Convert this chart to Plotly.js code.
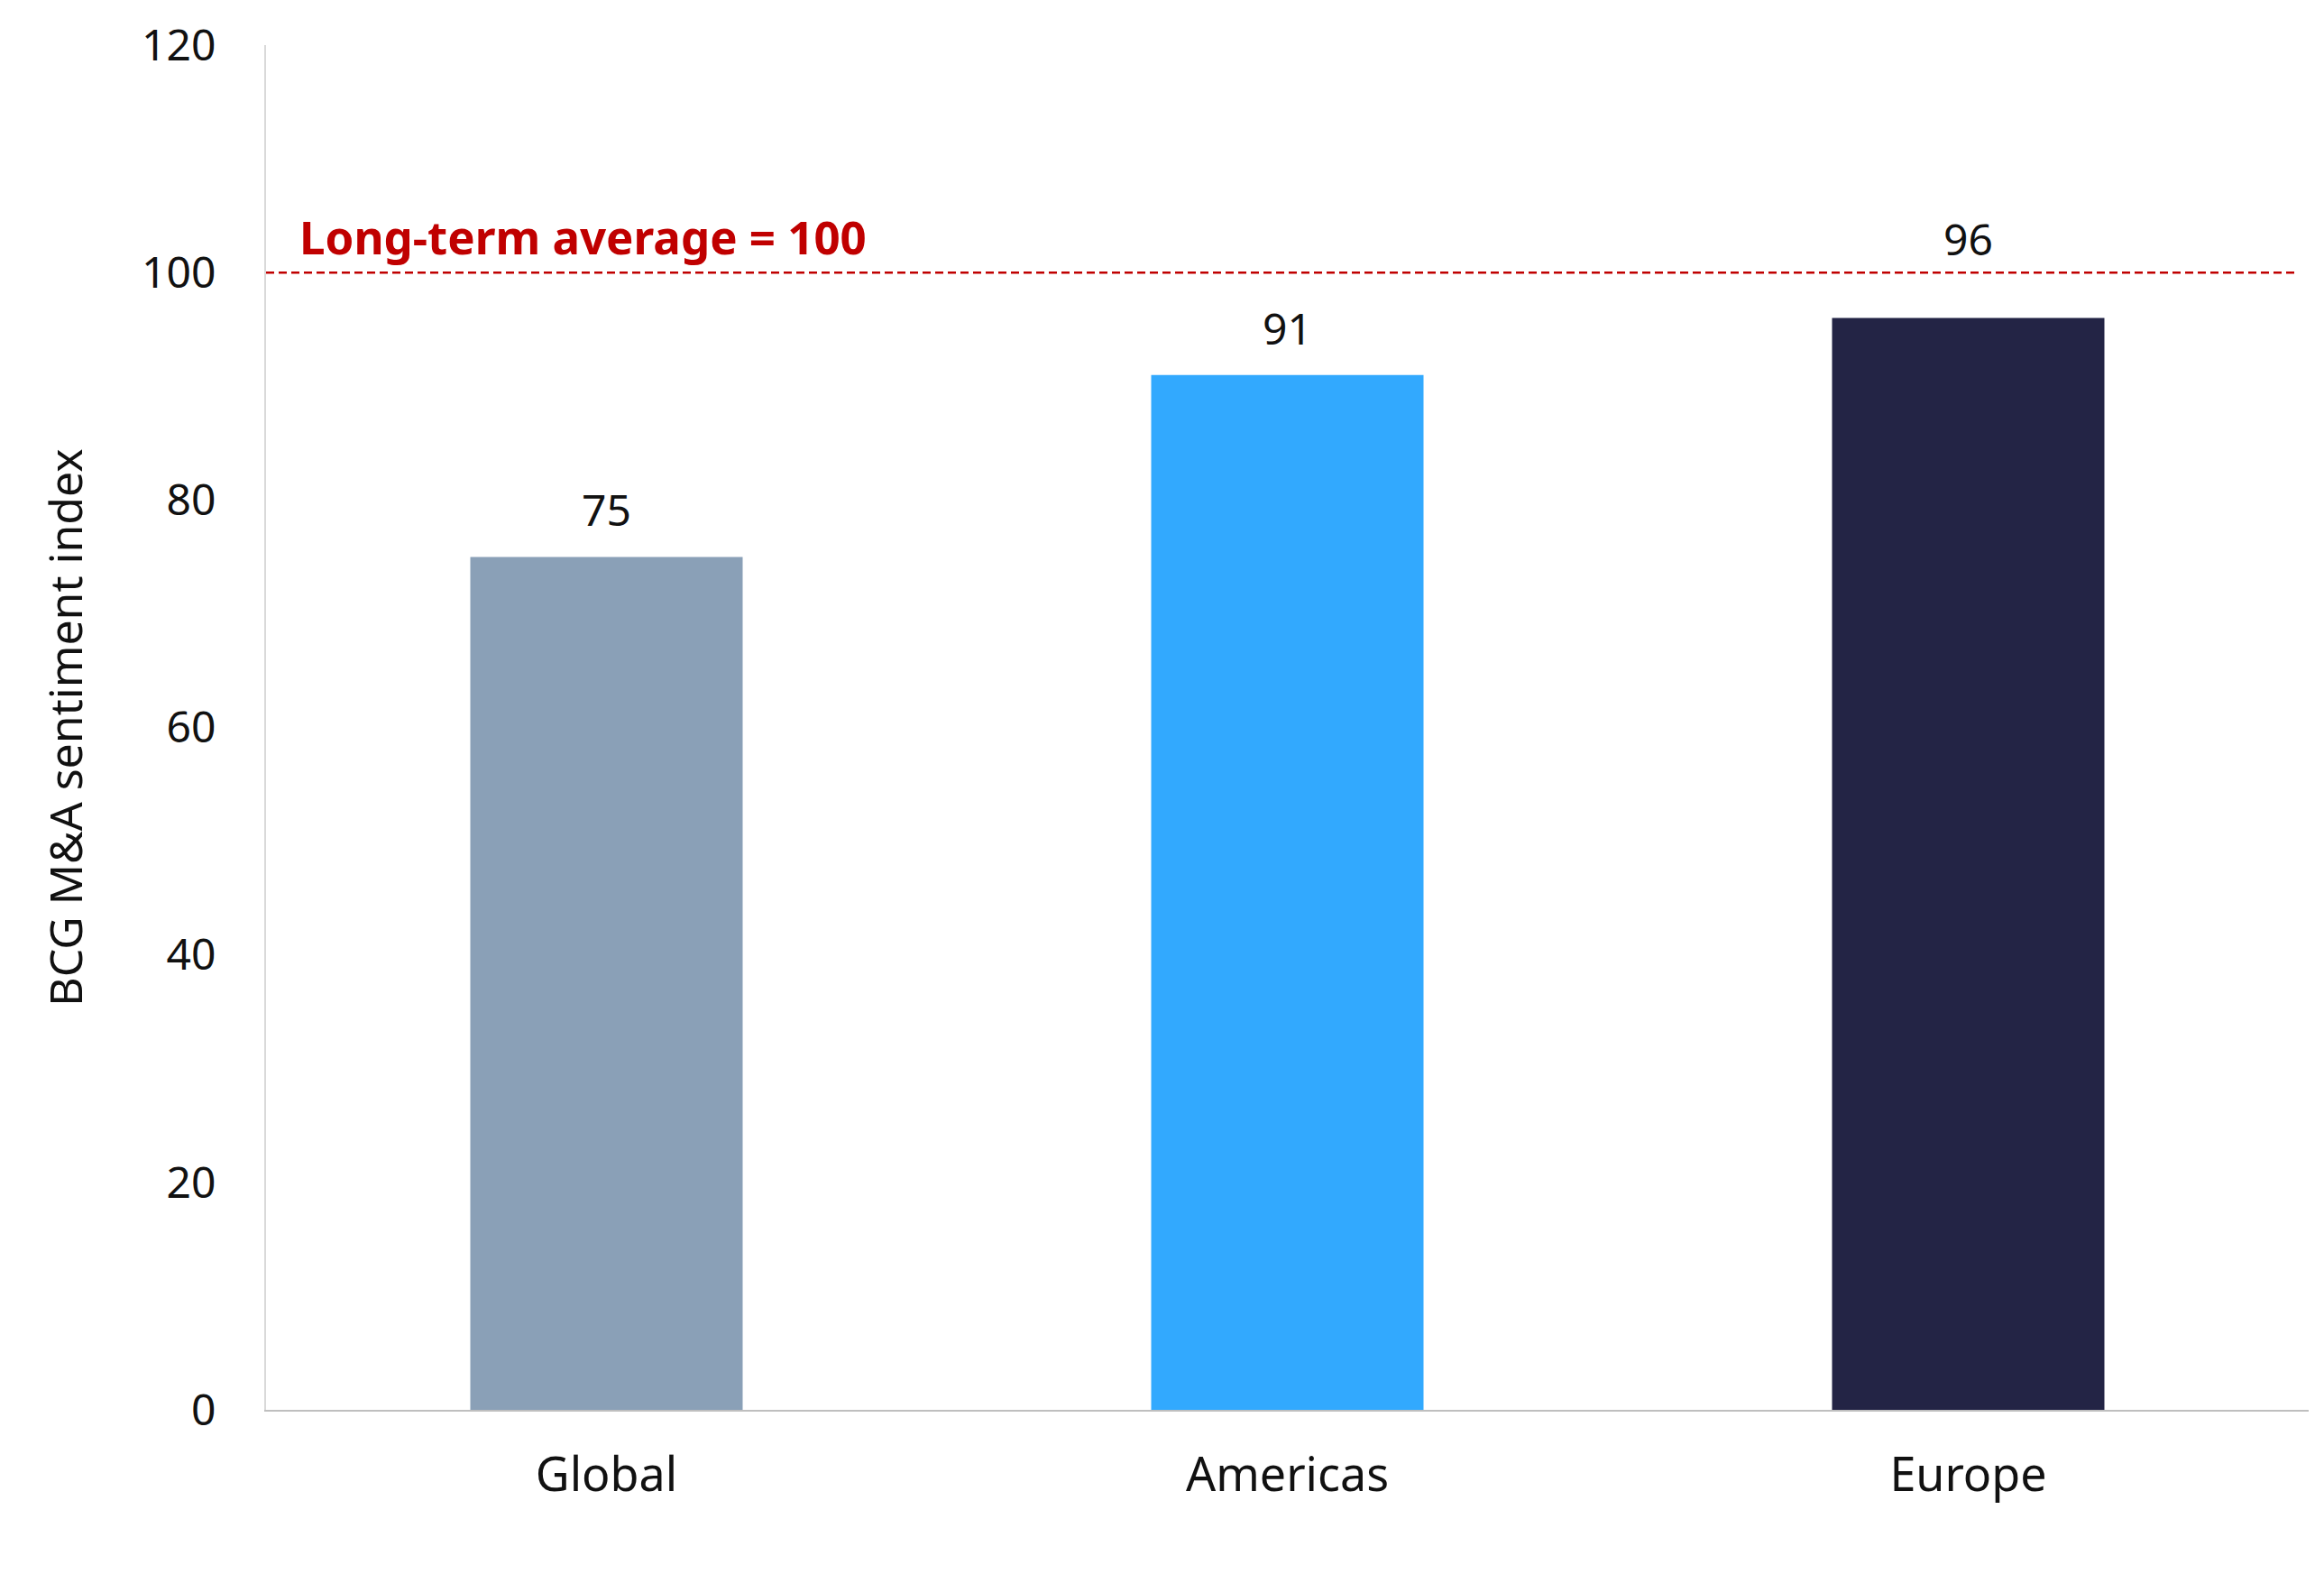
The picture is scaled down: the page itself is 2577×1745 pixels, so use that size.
<!DOCTYPE html>
<html>
<head>
<meta charset="utf-8">
<script src="https://cdn.plot.ly/plotly-3.0.1.min.js"></script>
<style>
  html, body { margin: 0; padding: 0; background: #ffffff; }
  #chart { width: 2577px; height: 1745px; }
</style>
</head>
<body>
<div id="chart"></div>
<script>
const categories = ["Global", "Americas", "Europe"];
const values = [75, 91, 96];
const barColors = ["#8AA0B7", "#32A9FE", "#232445"];
const averageValue = 100;
const averageLabel = "Long-term average = 100";
const yTickValues = [0, 20, 40, 60, 80, 100, 120];
const yAxisTitle = "BCG M&A sentiment index";

const FONT = "'Noto Sans', 'Open Sans', sans-serif";

const trace = {
  type: "bar",
  x: categories,
  y: values,
  marker: { color: barColors, line: { width: 0 } },
  width: 0.4,
  hoverinfo: "skip",
  showlegend: false
};

// value labels: placed above the bar, or above the average line when they would collide with it
const valueAnnotations = categories.map((c, i) => {
  const nearLine = (averageValue - values[i]) < 8;
  return {
    x: c, xref: "x", yref: "y",
    y: nearLine ? averageValue : values[i],
    text: String(values[i]),
    showarrow: false,
    yanchor: nearLine ? "middle" : "bottom",
    yshift: nearLine ? 38 : 18,
    font: { family: FONT, size: 48, color: "#111111" }
  };
});

const layout = {
  width: 2577,
  height: 1745,
  paper_bgcolor: "#ffffff",
  plot_bgcolor: "#ffffff",
  margin: { l: 295, r: 17, t: 50, b: 182 },
  font: { family: FONT, size: 48, color: "#111111" },
  xaxis: {
    type: "category",
    showgrid: false,
    zeroline: false,
    showline: true,
    linecolor: "#BFBFBF",
    linewidth: 2,
    ticks: "",
    ticklabelstandoff: 26,
    tickfont: { family: FONT, size: 52, color: "#111111" }
  },
  yaxis: {
    range: [0, 120],
    tickvals: yTickValues,
    ticktext: yTickValues.map(String),
    showgrid: false,
    zeroline: false,
    showline: true,
    linecolor: "#D9D9D9",
    linewidth: 2,
    ticks: "",
    ticklabelstandoff: 44,
    tickfont: { family: FONT, size: 48, color: "#111111" },
    title: {
      text: yAxisTitle,
      standoff: 50,
      font: { family: FONT, size: 50, color: "#111111" }
    }
  },
  shapes: [{
    type: "line",
    xref: "paper", yref: "y",
    x0: 0, x1: 0.994,
    y0: averageValue, y1: averageValue,
    line: { color: "#C00000", width: 2.5, dash: "9px,5px" }
  }],
  annotations: valueAnnotations.concat([{
    xref: "paper", yref: "y",
    x: 0.0155, y: averageValue,
    xanchor: "left", yanchor: "middle",
    yshift: 40,
    showarrow: false,
    text: "<b>" + averageLabel + "</b>",
    font: { family: FONT, size: 51, color: "#C00000" }
  }])
};

Plotly.newPlot("chart", [trace], layout, { staticPlot: true, displayModeBar: false });
</script>
</body>
</html>
